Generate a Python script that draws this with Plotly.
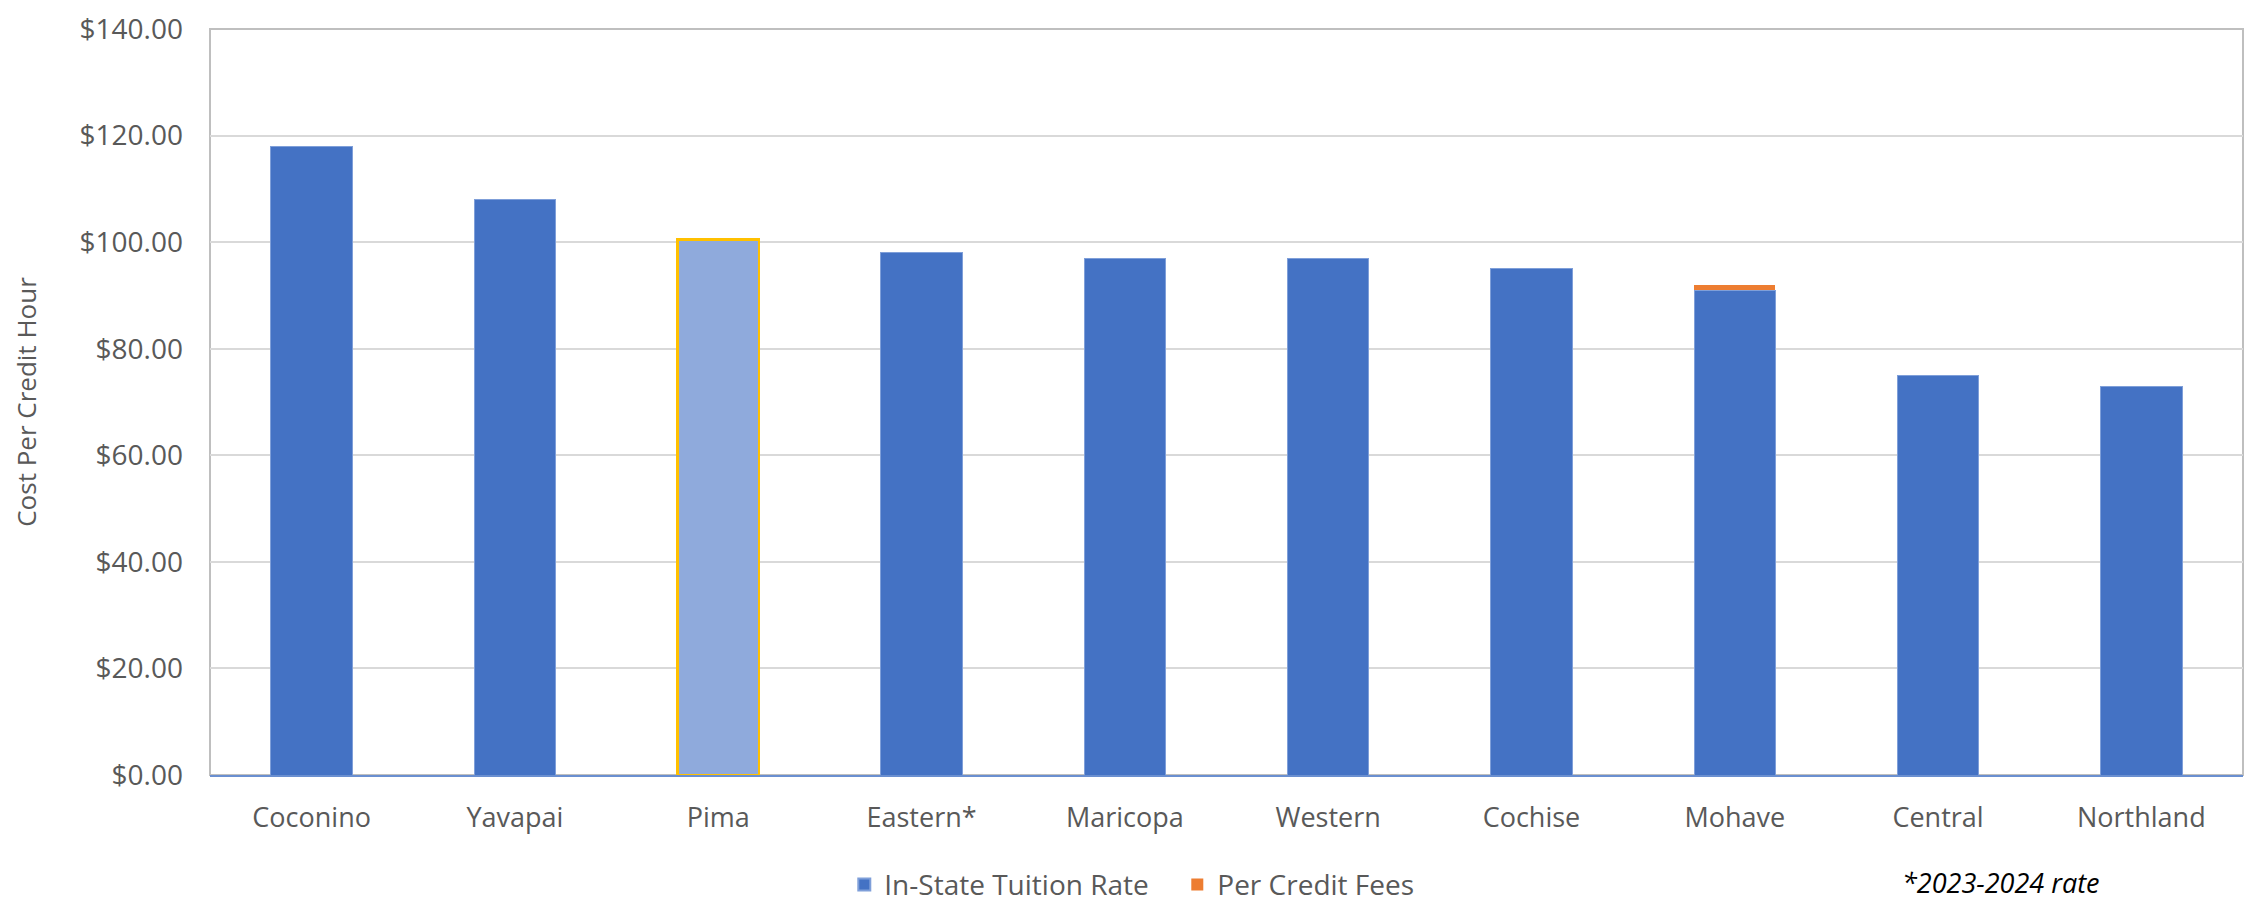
import plotly.graph_objects as go

categories = ["Coconino", "Yavapai", "Pima", "Eastern*", "Maricopa", "Western",
              "Cochise", "Mohave", "Central", "Northland"]
tuition = [118, 108, 100.5, 98, 97, 97, 95, 91, 75, 73]
fees = [0, 0, 0, 0, 0, 0, 0, 1, 0, 0]
tick_vals = [0, 20, 40, 60, 80, 100, 120, 140]
tick_text = ["$0.00", "$20.00", "$40.00", "$60.00", "$80.00", "$100.00", "$120.00", "$140.00"]

BLUE = "#4472C4"
PIMA = "#8FAADC"
ORANGE = "#ED7D31"
GOLD = "#FFC000"
FONT = "Open Sans"
GRAY = "#595959"

bar_colors = [PIMA if c == "Pima" else BLUE for c in categories]
line_colors = [GOLD if c == "Pima" else "#7F9FD9" for c in categories]
line_widths = [2.5 if c == "Pima" else 1 for c in categories]

fig = go.Figure()
fig.add_trace(go.Bar(
    x=categories, y=tuition, name="In-State Tuition Rate",
    marker=dict(color=bar_colors, line=dict(color=line_colors, width=line_widths)),
    width=0.4,
))
fig.add_trace(go.Bar(
    x=categories, y=fees, name="Per Credit Fees",
    marker=dict(color=ORANGE, line=dict(width=0)),
    width=0.4,
))

fig.update_layout(
    width=2236, height=920,
    barmode="stack",
    plot_bgcolor="white", paper_bgcolor="white",
    margin=dict(l=202, r=1, t=13, b=153),
    font=dict(family=FONT, color=GRAY, size=27),
    showlegend=True,
    legend=dict(orientation="h", x=0.312, xanchor="left", y=-0.1472, yanchor="middle",
                font=dict(size=28, color=GRAY), itemsizing="constant",
                traceorder="normal", itemwidth=30,
                entrywidth=288, entrywidthmode="pixels"),
    xaxis=dict(showgrid=False, showline=True, linecolor="#6A8FD0", linewidth=1.5,
               mirror=False, ticks="", tickfont=dict(size=27, color=GRAY),
               ticklabelstandoff=18, zeroline=False),
    yaxis=dict(range=[0, 140], tickvals=tick_vals, ticktext=tick_text,
               showgrid=True, gridcolor="#D9D9D9", gridwidth=1.5,
               showline=False, zeroline=False, ticks="",
               tickfont=dict(size=28, color=GRAY), ticklabelstandoff=26,
               ticklabeloverflow="allow",
               title=dict(text="Cost Per Credit Hour", font=dict(size=26, color=GRAY), standoff=40)),
    shapes=[dict(type="rect", xref="paper", yref="paper", x0=0, x1=1, y0=0, y1=1,
                 line=dict(color="#BFBFBF", width=2), layer="below")],
    annotations=[dict(text="<i>*2023-2024 rate</i>", xref="paper", yref="paper",
                      x=0.881, y=-0.1440, xanchor="center", yanchor="middle",
                      showarrow=False, font=dict(size=27, color="black", family=FONT))],
)

fig.write_html("out.html", config={"displayModeBar": False})
